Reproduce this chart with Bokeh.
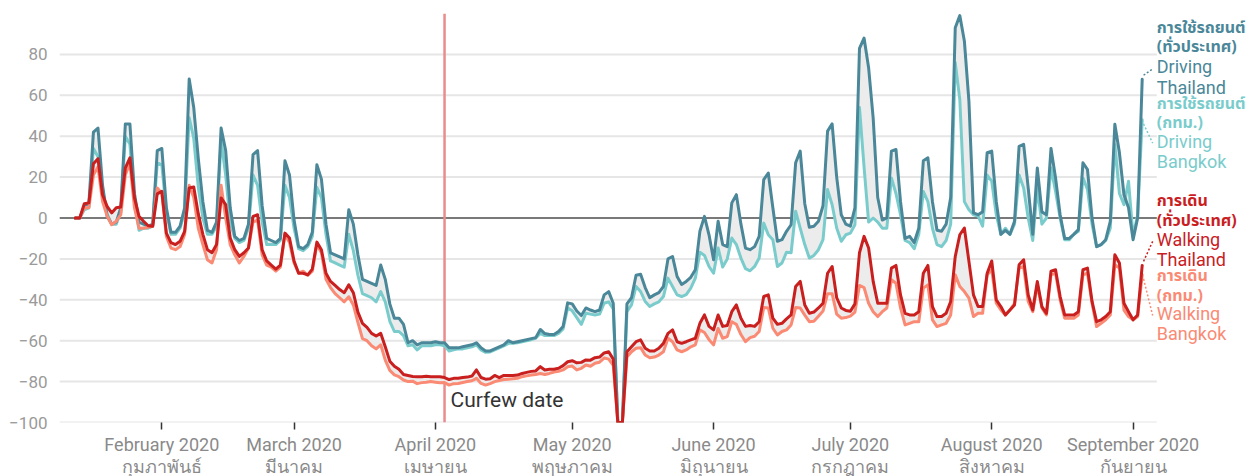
import pandas as pd
from bokeh.plotting import figure
from bokeh.models import Range1d, FixedTicker, Span, Label, Arrow
from bokeh.embed import file_html
from bokeh.resources import INLINE

# ---------------- data ----------------
START = "2020-01-13"
END = "2020-09-03"

driving_thailand = [
    0, 0, 6, 7, 42, 44, 16, 1, -3, -2,
    5, 46, 46, 12, -2, -3, -4, -3, 33, 34,
    5, -7, -7, -4, 5, 68, 54, 29, 8, -6,
    -7, -2, 44, 33, 5, -9, -11, -10, -3, 31,
    33, 6, -10, -11, -12, -10, 28, 21, -1, -14,
    -15, -13, -7, 26, 19, -3, -17, -18, -19, -20,
    4, -3, -18, -30, -31, -32, -33, -23, -30, -42,
    -49, -49, -52, -61, -60, -62, -61, -61, -61, -60.5,
    -61, -61, -63.5, -63.5, -63.5, -63, -62.5, -62, -61, -63.5,
    -65, -65, -64, -63, -62, -60, -61, -60.5, -60, -59.5,
    -59, -58.5, -54.5, -56.5, -57, -57, -55.5, -53, -41.5, -42,
    -45.5, -47.7, -44, -45, -45.8, -45, -37.6, -36, -41.7, -100,
    -100, -42, -39, -28, -27.5, -34, -39, -37.6, -36.5, -33.5,
    -20, -18.8, -28.6, -32.5, -31, -29, -25.3, -6.5, 0.8, -8.2,
    -20.4, -1.6, -13, -14, 7.4, 11.4, -3, -14.7, -15.5, -14,
    -9, 18.8, 22, 5, -11.4, -10.6, -6.5, -3.3, 27, 32.7,
    7, -4.5, -4, -1.6, 6, 42.5, 46, 20, 1.6, -3,
    -4, 5, 83, 88, 73.5, 49, 10, -1, 0, 32.7,
    33.5, 8, -10, -9, -12, -5, 28, 29.4, 8, -6,
    -6.5, -3, 10, 93, 99, 86.6, 57, 2.5, 1.6, 3,
    32, 32.7, 8, -8, -6, -8, -1.6, 35, 36, 14.7,
    -8, 24.5, 3, 1.6, 34, 19.6, 1.6, -10, -10, -8,
    -5.7, 27, 23.7, 0, -14, -13, -10.6, -1.6, 45.8, 32,
    11.4, 5, -10.6, 0, 67.8,
]

driving_bangkok = [
    0, 0, 4, 5, 34, 30, 14, 2, -3, -3,
    3, 40, 36, 8, -6, -5, -5, -4, 27, 26,
    3, -8, -8, -5, 3, 49, 39, 15, 0, -8,
    -8, -4, 38, 21, -2, -10, -12, -11, -5, 21,
    16, -2, -13, -13, -13, -11, 16, 10, -5, -15,
    -16, -14, -9, 15, 10, -8, -21, -22, -23, -24,
    -8, -16, -28, -37, -38, -39, -41, -36, -41, -50.5,
    -55.5, -55.5, -57.5, -62.5, -62, -64.5, -62.5, -62.5, -62.5, -62,
    -62, -62.5, -65, -64.5, -64, -64, -63.5, -63, -62, -64.5,
    -65.7, -65.5, -64.5, -63.5, -62.5, -61.3, -61.3, -61, -60.5, -60,
    -59.5, -58.8, -56.4, -57.5, -57.5, -57.5, -56.4, -54.2, -44, -45.4,
    -48.7, -52, -46.6, -47, -47.4, -47, -41.7, -41, -44.5, -100,
    -100, -45.8, -42.5, -33.5, -36, -40.8, -43.3, -42, -41, -38.4,
    -29.4, -33.5, -37.6, -38.4, -37.5, -34.3, -29.4, -16.7, -18.3, -23.7,
    -27, -14.7, -24, -20, -9.8, -13, -19.6, -24.8, -25.8, -23.7,
    -19.6, -2.5, -8.2, -10.6, -23.7, -22, -16.7, -17, 3.3, -4.9,
    -13, -19.6, -18.3, -15.5, -10.6, 13.9, 6.5, -4.9, -11.4, -8.2,
    -7.4, -3.3, 54, 25, -2, 0, -2, -5, -5, 19.6,
    12, 1.6, -11, -12, -15, -8, 13, 8, -5, -13,
    -14, -11, -3, 76, 58, 8, 4, 1.6, 1, -4,
    21, 18, 1.6, -8, -5, -8, -3, 21, 14.7, 0,
    -11, 14.7, -3, 0, 24.5, 13, 0, -10.6, -10.6, -8,
    -6.5, 19.6, 13.9, -3, -14, -13, -11, -5, 36, 12,
    6.5, 18, -9, 1.6, 48,
]

walking_thailand = [
    0, 0, 7, 7.4, 26.5, 29, 11.4, 5.7, 2.5, 5,
    5.4, 24.5, 29.4, 9.8, 0.8, -1.6, -3.8, -4, 11.8, 13,
    -7.4, -12, -13, -11.4, -6.5, 14.7, 15.2, 2, -8, -15.5,
    -17, -13, 9.8, 6.5, -9.8, -15.5, -18.8, -17, -14.7, 0.8,
    1.6, -15.5, -21, -23, -25, -23, -7.4, -9.8, -21, -27,
    -27, -27.8, -25, -11.8, -15.5, -27, -31, -33, -35, -36.5,
    -32.7, -36.5, -46, -51.5, -53.5, -56.4, -57.7, -56.4, -63, -70,
    -72.5, -74, -76.5, -77, -77.5, -77.6, -77.6, -77.4, -77.6, -77.6,
    -77.6, -78, -79, -78.4, -78.4, -78, -77.8, -77.3, -74.3, -78,
    -78.8, -78.6, -77, -78, -77, -77, -77, -76.8, -76, -75.5,
    -75, -74.8, -72.7, -74.3, -74, -74, -73.5, -72.2, -70.3, -69.8,
    -70.8, -70.6, -69.4, -69.5, -68.3, -68, -66, -65.4, -69, -100,
    -100, -65.4, -62.9, -60.5, -59.6, -63.7, -65, -65, -63.7, -61.3,
    -56.4, -54.7, -60.5, -61.3, -60.5, -59.6, -58.8, -51.5, -47.4, -53,
    -54.7, -47.4, -53, -52.6, -45.8, -42.5, -49, -53, -52.6, -53,
    -50.7, -38.4, -37.6, -49, -52, -51.5, -49.3, -47.4, -33.5, -31,
    -42.5, -46.6, -46, -44, -41.7, -27, -23.7, -39, -44, -45.2,
    -45.6, -42, -17, -9, -14.7, -31, -41.7, -41.7, -41.7, -24.5,
    -23.2, -37.6, -46.6, -47.4, -47.4, -45.8, -27, -23.2, -43.3, -48.2,
    -48.2, -46.6, -40.8, -18.8, -8.2, -4.9, -21.2, -37.6, -43.3, -43.3,
    -27, -21, -40, -43.3, -47.4, -45, -42.5, -22.9, -20.4, -37.6,
    -45, -31, -43.3, -46.6, -26, -25.3, -38.4, -47.4, -47.4, -47.4,
    -45.8, -25.3, -24.5, -40.8, -50.7, -49.8, -48.2, -45.8, -18, -22,
    -41.7, -45.8, -49.8, -47.4, -23.2,
]

walking_bangkok = [
    0, 0, 5, 5, 21, 25, 8, 1, -3.3, -1.6,
    1.6, 21, 27, 5, -5, -5, -4.5, -4, 14.7, 12,
    -9, -14.7, -15.5, -14, -8, 16, 10, -5, -13, -20.4,
    -22, -15.5, 16, 0, -13, -18, -22, -18.8, -14.7, -2,
    -1, -18, -23, -24, -26, -24, -8, -12, -22, -27,
    -26, -28, -26, -13, -17, -30, -34, -37, -39, -41,
    -38.5, -42.5, -51, -59, -60, -62.5, -64, -62, -69.5, -74.5,
    -76.7, -77.6, -79.2, -80, -79.8, -81, -80.5, -80.3, -80, -80.3,
    -80.6, -80.5, -81.7, -81, -80.9, -80.4, -80, -79.6, -78.4, -80.9,
    -81.7, -81, -80, -79.5, -79, -78.8, -78.6, -78.4, -77.6, -77.2,
    -76.8, -76.5, -76, -76.5, -76, -75.3, -75, -74.3, -72.7, -72.4,
    -74.3, -73.5, -71.9, -72.5, -71, -70.5, -68.5, -69, -72, -100,
    -100, -68, -65.4, -63.7, -63.4, -67, -68.3, -68, -67, -65.4,
    -58.8, -60.5, -64.5, -65.4, -64.5, -63, -62, -54.7, -56, -59.5,
    -62, -54, -58.8, -58, -50.7, -52, -57, -60.5, -58.5, -57.8,
    -55.5, -43.8, -44, -53.9, -57.2, -55.5, -54.7, -52.3, -43.8, -44,
    -47.5, -50.7, -50.5, -48, -45.5, -37, -37, -47, -49, -48.7,
    -48, -46, -33, -34, -41.7, -45.8, -48.2, -45.8, -44, -30.2,
    -31.9, -44, -52.3, -51.5, -50.7, -50.7, -34.3, -32.7, -49.8, -53.1,
    -52.3, -51.5, -47.4, -27.8, -33.5, -36, -39.2, -48.2, -46.6, -46.6,
    -27.8, -25.3, -41.7, -45, -47.4, -45, -41.7, -24.5, -23.7, -40.8,
    -45.8, -32.7, -44, -47.4, -27.8, -27, -40, -49, -49, -49,
    -47.4, -27.8, -27, -41.7, -53.1, -51.5, -49.8, -47.4, -22.9, -24.5,
    -45, -48.2, -49.8, -48.2, -27.8,
]

month_starts = ["2020-02-01", "2020-03-01", "2020-04-01", "2020-05-01",
                "2020-06-01", "2020-07-01", "2020-08-01", "2020-09-01"]
month_labels_en = ["February 2020", "March 2020", "April 2020", "May 2020",
                   "June 2020", "July 2020", "August 2020", "September 2020"]
month_labels_th = ["กุมภาพันธ์", "มีนาคม", "เมษายน", "พฤษภาคม",
                   "มิถุนายน", "กรกฎาคม", "สิงหาคม", "กันยายน"]
y_ticks = [-100, -80, -60, -40, -20, 0, 20, 40, 60, 80]
curfew_date = "2020-04-03"

series_names_th = ["การใช้รถยนต์\n(ทั่วประเทศ)", "การใช้รถยนต์\n(กทม.)",
                   "การเดิน\n(ทั่วประเทศ)", "การเดิน\n(กทม.)"]
series_names_en = ["Driving\nThailand", "Driving\nBangkok",
                   "Walking\nThailand", "Walking\nBangkok"]

# ---------------- derived ----------------
dates = pd.date_range(START, END, freq="D")
for s in (driving_thailand, driving_bangkok, walking_thailand, walking_bangkok):
    assert len(s) == len(dates), len(s)
x = [(d - dates[0]).days for d in dates]
month_ticks = [(pd.Timestamp(m) - dates[0]).days for m in month_starts]
curfew_x = (pd.Timestamp(curfew_date) - dates[0]).days

C_DT = "#4a8799"
C_DB = "#7acccc"
C_WT = "#c9201f"
C_WB = "#fa8a74"
FILL = "#ececec"
FONT = "Roboto"
THAI_FONT = "'Noto Sans Thai', 'Noto Sans Thai Looped', 'Noto Sans', Roboto, sans-serif"

X_LEFT = -3.44        # left edge of plotting area (days)
X_GRID_END = 237.2    # where the grid stops and the label column begins
X_RIGHT = 257.75      # right edge incl. label column

p = figure(frame_width=1191, frame_height=409,
           x_range=Range1d(X_LEFT, X_RIGHT), y_range=Range1d(-100, 100),
           output_backend="svg", toolbar_location=None,
           min_border_left=59, min_border_right=0, min_border_top=13,
           min_border_bottom=10)
p.outline_line_color = None
p.background_fill_color = "white"
p.border_fill_color = "white"

# axes
p.yaxis.ticker = FixedTicker(ticks=y_ticks)
p.yaxis.major_label_overrides = {t: str(t).replace("-", "\u2212") for t in y_ticks}
p.yaxis.axis_line_color = None
p.yaxis.major_tick_line_color = None
p.yaxis.minor_tick_line_color = None
p.yaxis.major_label_text_font = FONT
p.yaxis.major_label_text_font_size = "17px"
p.yaxis.major_label_text_color = "#9a9a9a"
p.yaxis.major_label_standoff = 6

p.xaxis.ticker = FixedTicker(ticks=month_ticks)
p.xaxis.major_label_overrides = {t: f"{en}\n{th}" for t, en, th in
                                 zip(month_ticks, month_labels_en, month_labels_th)}
p.xaxis.axis_line_color = None
p.xaxis.major_tick_in = 0
p.xaxis.major_tick_out = 7
p.xaxis.major_tick_line_color = "#333333"
p.xaxis.major_tick_line_width = 1.5
p.xaxis.minor_tick_line_color = None
p.xaxis.major_label_text_font = FONT
p.xaxis.major_label_text_font_size = "18px"
p.xaxis.major_label_text_line_height = 1.05
p.xaxis.major_label_text_color = "#8a8a8a"
p.xaxis.major_label_standoff = 4

p.grid.visible = False

# horizontal grid lines limited to the data area
n = len(y_ticks)
p.segment(x0=[X_LEFT] * n, y0=y_ticks, x1=[X_GRID_END] * n, y1=y_ticks,
          line_color="#e6e6e6", line_width=2, level="underlay")
# zero line
p.segment(x0=[X_LEFT], y0=[0], x1=[X_GRID_END], y1=[0],
          line_color="#555555", line_width=1.5, level="underlay")

p.add_layout(Span(location=curfew_x, dimension="height", line_color="#e98c8c",
                  line_width=2.5, level="underlay"))

# fills between the pairs
p.varea(x=x, y1=driving_thailand, y2=driving_bangkok, fill_color=FILL)
p.varea(x=x, y1=walking_thailand, y2=walking_bangkok, fill_color=FILL)

# lines
for ys, c in ((driving_bangkok, C_DB), (driving_thailand, C_DT),
              (walking_bangkok, C_WB), (walking_thailand, C_WT)):
    p.line(x, ys, line_color=c, line_width=3, line_join="round", line_cap="round")

# curfew label
p.add_layout(Label(x=curfew_x, y=-100, x_offset=6, y_offset=23, text="Curfew date",
                   text_font=FONT, text_font_size="21px", text_color="#333333",
                   text_baseline="alphabetic"))

# right-hand series labels
groups = [
    (series_names_th[0], series_names_en[0], C_DT, 93.1, 73.9, driving_thailand),
    (series_names_th[1], series_names_en[1], C_DB, 55.9, 37.6, driving_bangkok),
    (series_names_th[2], series_names_en[2], C_WT, 8.2, -10.4, walking_thailand),
    (series_names_th[3], series_names_en[3], C_WB, -28.6, -46.7, walking_bangkok),
]
LINE_STEP_TH = 9.5
LINE_STEP_EN = 9.9
for th, en, col, y_th, y_en, ys in groups:
    for i, line in enumerate(th.split("\n")):
        p.add_layout(Label(x=X_GRID_END, y=y_th - i * LINE_STEP_TH, text=line,
                           text_font=THAI_FONT, text_font_style="bold",
                           text_font_size="16px", text_color=col,
                           text_align="left", text_baseline="middle"))
    for i, line in enumerate(en.split("\n")):
        p.add_layout(Label(x=X_GRID_END, y=y_en - i * LINE_STEP_EN, text=line,
                           text_font=FONT, text_font_size="18px", text_color=col,
                           text_align="left", text_baseline="middle"))
    # dotted connector from the line end to its label
    p.add_layout(Arrow(end=None, x_start=x[-1] + 0.3,
                       y_start=ys[-1] + (2 if y_en > ys[-1] else -2),
                       x_end=X_GRID_END - 0.9, y_end=y_en - 1,
                       line_color=col, line_width=1.5, line_dash="2 2"))

html = file_html(p, INLINE, "Thailand mobility")
with open("out.html", "w") as f:
    f.write(html)
